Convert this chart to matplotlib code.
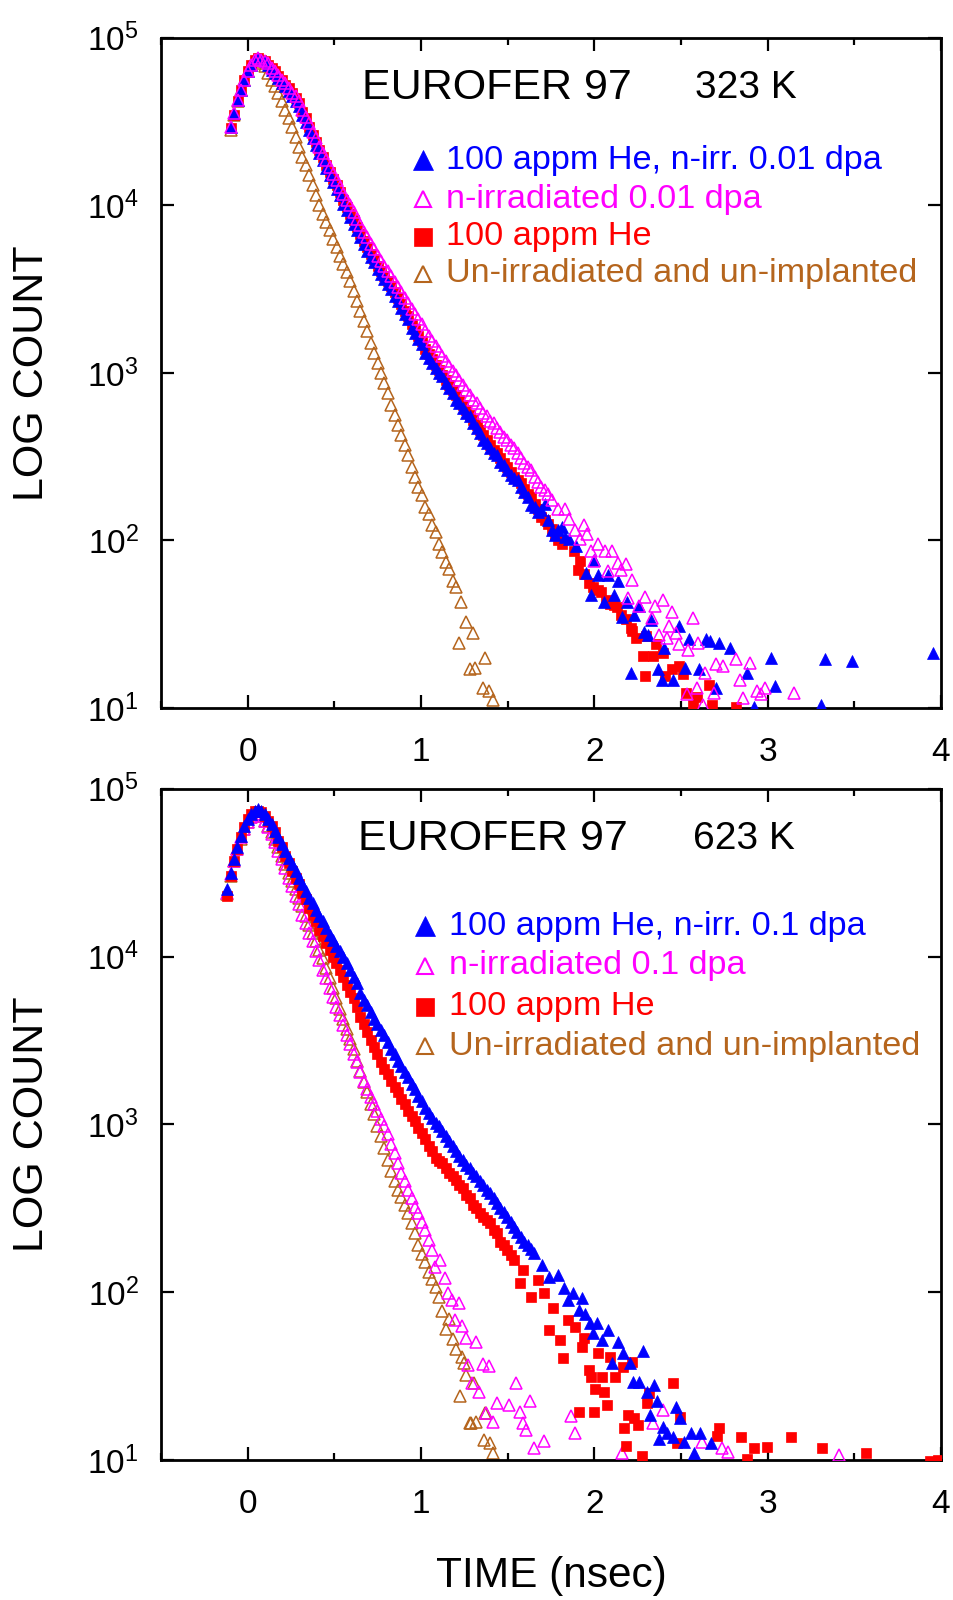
import numpy as np
import matplotlib
matplotlib.use("Agg")
import matplotlib.pyplot as plt
from matplotlib.ticker import MultipleLocator, LogLocator, NullLocator

plt.rcParams['font.family'] = ['Liberation Sans', 'DejaVu Sans']
plt.rcParams['mathtext.fontset'] = 'custom'
plt.rcParams['mathtext.rm'] = 'Liberation Sans'
plt.rcParams['mathtext.it'] = 'Liberation Sans:italic'

# ---------------- data (log10 of counts per time channel) ----------------
CHANNEL_NS = 0.0197
T0_TOP = -0.098
T0_BOT = -0.118

# Top panel: 323 K
top_blue = [4.47, 4.55, 4.63, 4.69, 4.75, 4.80, 4.84, 4.87, 4.88, 4.87,
            4.86, 4.84, 4.81, 4.79, 4.76, 4.73, 4.71, 4.68, 4.65, 4.62,
            4.59, 4.54, 4.50, 4.45, 4.40, 4.36, 4.31, 4.27, 4.22, 4.18,
            4.14, 4.10, 4.06, 4.01, 3.97, 3.93, 3.89, 3.85, 3.81, 3.77,
            3.73, 3.69, 3.66, 3.62, 3.59, 3.56, 3.53, 3.50, 3.46, 3.43,
            3.39, 3.35, 3.32, 3.27, 3.24, 3.20, 3.17, 3.12, 3.09, 3.06,
            3.03, 3.00, 2.98, 2.94, 2.91, 2.88, 2.84, 2.82, 2.79, 2.76,
            2.74, 2.70, 2.67, 2.64, 2.60, 2.58, 2.55, 2.52, 2.51, 2.47,
            2.45, 2.42, 2.39, 2.37, 2.36, 2.32, 2.29, 2.26, 2.21, 2.20,
            2.17, 2.18, 2.22, 2.12, 2.06, 2.03, 2.06, 2.08, 2.02, 2.01]
top_blue_tail_t = [1.894, 1.952, 1.98, 2.0, 2.02, 2.058, 2.077, 2.116, 2.134, 2.16,
                   2.19, 2.21, 2.23, 2.26, 2.288, 2.307, 2.327, 2.37, 2.39, 2.40,
                   2.452, 2.49, 2.525, 2.548, 2.605, 2.644, 2.67, 2.70, 2.72, 2.78,
                   2.878, 2.92, 3.018, 3.04, 3.31, 3.33, 3.487, 3.956]
top_blue_tail = [1.964, 1.805, 1.675, 1.884, 1.795, 1.635, 1.795, 1.675, 1.755, 1.546,
                 1.635, 1.21, 1.556, 1.606, 1.456, 1.437, 1.526, 1.23, 1.165, 1.36,
                 1.166, 1.49, 1.24, 1.41, 1.23, 1.41, 1.40, 1.117, 1.39, 1.36,
                 1.21, 1.005, 1.30, 1.13, 1.02, 1.29, 1.28, 1.33]

top_red = [4.46, 4.54, 4.62, 4.69, 4.75, 4.80, 4.84, 4.87, 4.88, 4.87,
           4.86, 4.84, 4.82, 4.80, 4.77, 4.75, 4.72, 4.70, 4.67, 4.64,
           4.61, 4.56, 4.52, 4.47, 4.42, 4.38, 4.33, 4.29, 4.24, 4.20,
           4.16, 4.12, 4.08, 4.03, 3.99, 3.95, 3.91, 3.87, 3.83, 3.79,
           3.75, 3.71, 3.68, 3.64, 3.61, 3.58, 3.55, 3.52, 3.48, 3.45,
           3.41, 3.37, 3.34, 3.29, 3.26, 3.22, 3.19, 3.14, 3.11, 3.08,
           3.05, 3.02, 2.99, 2.96, 2.93, 2.90, 2.87, 2.84, 2.81, 2.78,
           2.75, 2.72, 2.69, 2.66, 2.63, 2.60, 2.57, 2.54, 2.52, 2.49,
           2.46, 2.44, 2.41, 2.38, 2.36, 2.34, 2.31, 2.28, 2.26, 2.22,
           2.19, 2.14, 2.12, 2.10, 2.07, 2.03, 2.00, 1.98]
top_red_tail_t = [1.885, 1.905, 1.92, 1.94, 1.97, 1.99, 2.02, 2.04, 2.07, 2.09,
                  2.116, 2.13, 2.155, 2.18, 2.21, 2.22, 2.24, 2.28, 2.29, 2.30,
                  2.337, 2.355, 2.395, 2.41, 2.45, 2.49, 2.51, 2.53, 2.57, 2.59,
                  2.66, 2.68, 2.82]
top_red_tail = [1.94, 1.825, 1.88, 1.80, 1.745, 1.72, 1.705, 1.69, 1.645, 1.62,
                1.616, 1.60, 1.556, 1.53, 1.477, 1.46, 1.418, 1.31, 1.19, 1.427,
                1.31, 1.38, 1.33, 1.19, 1.23, 1.25, 1.20, 1.092, 1.02, 1.068,
                1.14, 1.02, 1.005]

top_magenta = [4.47, 4.55, 4.63, 4.69, 4.75, 4.80, 4.84, 4.87, 4.88, 4.87,
               4.86, 4.85, 4.82, 4.80, 4.78, 4.75, 4.73, 4.70, 4.67, 4.65,
               4.62, 4.57, 4.53, 4.49, 4.44, 4.40, 4.35, 4.31, 4.27, 4.23,
               4.19, 4.15, 4.11, 4.07, 4.03, 4.00, 3.96, 3.92, 3.88, 3.84,
               3.81, 3.77, 3.74, 3.70, 3.67, 3.64, 3.61, 3.58, 3.54, 3.51,
               3.48, 3.45, 3.42, 3.38, 3.35, 3.32, 3.29, 3.25, 3.22, 3.19,
               3.16, 3.13, 3.10, 3.07, 3.04, 3.01, 2.99, 2.96, 2.93, 2.90,
               2.87, 2.84, 2.82, 2.79, 2.76, 2.74, 2.71, 2.70, 2.67, 2.65,
               2.62, 2.60, 2.57, 2.55, 2.52, 2.49, 2.46, 2.44, 2.42, 2.38,
               2.35, 2.32, 2.30, 2.28, 2.24]
top_magenta_tail_t = [1.79, 1.83, 1.856, 1.89, 1.92, 1.94, 1.96, 1.98, 2.0, 2.02,
                      2.06, 2.077, 2.10, 2.135, 2.155, 2.18, 2.196, 2.22, 2.26, 2.294,
                      2.33, 2.35, 2.375, 2.395, 2.42, 2.43, 2.45, 2.47, 2.49, 2.535,
                      2.54, 2.57, 2.59, 2.60, 2.625, 2.64, 2.69, 2.70, 2.74, 2.82,
                      2.84, 2.86, 2.90, 2.94, 2.96, 2.985, 3.15]
top_magenta_tail = [2.19, 2.19, 2.13, 2.06, 2.01, 2.09, 2.04, 1.94, 1.88, 1.98,
                    1.935, 1.815, 1.94, 1.864, 1.825, 1.86, 1.656, 1.765, 1.606, 1.66,
                    1.54, 1.61, 1.436, 1.645, 1.42, 1.49, 1.57, 1.45, 1.38, 1.085,
                    1.345, 1.54, 1.12, 1.39, 1.02, 1.21, 1.09, 1.26, 1.25, 1.29,
                    1.17, 1.06, 1.27, 1.10, 1.085, 1.12, 1.09]

top_brown = [4.45, 4.54, 4.62, 4.69, 4.75, 4.80, 4.84, 4.86, 4.87, 4.85,
             4.83, 4.79, 4.75, 4.71, 4.67, 4.62, 4.57, 4.52, 4.47, 4.41,
             4.35, 4.29, 4.24, 4.18, 4.12, 4.06, 4.00, 3.95, 3.90, 3.85,
             3.80, 3.75, 3.70, 3.65, 3.60, 3.55, 3.49, 3.43, 3.37, 3.31,
             3.25, 3.18, 3.12, 3.06, 3.00, 2.94, 2.88, 2.81, 2.75, 2.69,
             2.63, 2.57, 2.51, 2.44, 2.38, 2.32, 2.27, 2.20, 2.16, 2.09,
             2.05, 1.98, 1.93, 1.87, 1.83, 1.76, 1.72]
top_brown_tail_t = [1.22, 1.23, 1.26, 1.28, 1.30, 1.313, 1.356, 1.367, 1.395, 1.415]
top_brown_tail = [1.39, 1.63, 1.516, 1.23, 1.447, 1.24, 1.118, 1.298, 1.10, 1.05]

# Bottom panel: 623 K
bot_blue = [4.40, 4.50, 4.58, 4.65, 4.72, 4.78, 4.82, 4.85, 4.87, 4.88,
            4.87, 4.85, 4.82, 4.79, 4.75, 4.71, 4.67, 4.63, 4.59, 4.55,
            4.51, 4.47, 4.43, 4.39, 4.35, 4.32, 4.28, 4.24, 4.21, 4.17,
            4.13, 4.10, 4.06, 4.03, 4.00, 3.96, 3.92, 3.88, 3.84, 3.78,
            3.74, 3.71, 3.67, 3.63, 3.60, 3.56, 3.53, 3.49, 3.45, 3.42,
            3.38, 3.35, 3.31, 3.28, 3.24, 3.21, 3.17, 3.14, 3.10, 3.07,
            3.04, 3.01, 2.99, 2.96, 2.93, 2.90, 2.87, 2.84, 2.81, 2.79,
            2.76, 2.74, 2.71, 2.69, 2.66, 2.64, 2.61, 2.59, 2.56, 2.53,
            2.50, 2.48, 2.45, 2.42, 2.39, 2.36, 2.33, 2.30, 2.28, 2.26]
bot_blue_tail_t = [1.654, 1.697, 1.739, 1.792, 1.824, 1.846, 1.877, 1.91, 1.926, 1.948,
                   1.973, 1.99, 2.016, 2.047, 2.08, 2.10, 2.139, 2.164, 2.207, 2.224,
                   2.26, 2.281, 2.303, 2.32, 2.345, 2.36, 2.375, 2.398, 2.422, 2.454,
                   2.47, 2.495, 2.517, 2.555, 2.574, 2.611, 2.674]
bot_blue_tail = [2.232, 2.162, 2.093, 2.103, 2.024, 1.954, 1.994, 1.894, 1.964, 1.87,
                 1.819, 1.755, 1.819, 1.715, 1.775, 1.576, 1.705, 1.636, 1.58, 1.467,
                 1.467, 1.651, 1.407, 1.268, 1.447, 1.354, 1.123, 1.198, 1.159, 1.135,
                 1.318, 1.248, 1.109, 1.159, 1.04, 1.159, 1.103]

bot_red = [4.36, 4.48, 4.57, 4.64, 4.71, 4.77, 4.82, 4.85, 4.87, 4.87,
           4.86, 4.84, 4.81, 4.78, 4.74, 4.69, 4.65, 4.60, 4.56, 4.51,
           4.47, 4.43, 4.38, 4.34, 4.29, 4.25, 4.21, 4.16, 4.12, 4.08,
           4.04, 4.00, 3.96, 3.92, 3.88, 3.83, 3.79, 3.75, 3.70, 3.64,
           3.60, 3.55, 3.50, 3.46, 3.42, 3.37, 3.33, 3.30, 3.26, 3.22,
           3.19, 3.15, 3.12, 3.08, 3.05, 3.02, 2.98, 2.95, 2.91, 2.87,
           2.84, 2.80, 2.78, 2.77, 2.74, 2.71, 2.69, 2.67, 2.64, 2.62,
           2.58, 2.56, 2.52, 2.50, 2.47, 2.45, 2.43, 2.41, 2.37, 2.35,
           2.30, 2.28, 2.25, 2.22, 2.19]
bot_red_tail_t = [1.569, 1.59, 1.633, 1.676, 1.707, 1.739, 1.76, 1.803, 1.82, 1.846,
                  1.888, 1.914, 1.931, 1.941, 1.969, 1.978, 1.997, 2.005, 2.024, 2.047,
                  2.058, 2.075, 2.09, 2.122, 2.164, 2.171, 2.18, 2.196, 2.218, 2.227,
                  2.25, 2.274, 2.303, 2.313, 2.452, 2.479, 2.494, 2.706, 2.718, 2.845,
                  2.879, 2.92, 2.996, 3.137, 3.311, 3.566, 3.934, 3.98]
bot_red_tail = [2.053, 2.133, 1.974, 2.073, 1.994, 1.775, 1.904, 1.715, 1.606, 1.835,
                1.795, 1.288, 1.675, 1.725, 1.536, 1.493, 1.288, 1.422, 1.636, 1.497,
                1.407, 1.328, 1.616, 1.497, 1.556, 1.189, 1.083, 1.268, 1.586, 1.248,
                1.209, 1.024, 1.342, 1.398, 1.457, 1.099, 1.258, 1.143, 1.189, 1.139,
                1.004, 1.07, 1.079, 1.139, 1.07, 1.04, 0.996, 1.0]

bot_magenta = [4.38, 4.49, 4.57, 4.64, 4.71, 4.76, 4.80, 4.83, 4.85, 4.85,
               4.84, 4.81, 4.77, 4.73, 4.68, 4.63, 4.58, 4.53, 4.47, 4.42,
               4.36, 4.31, 4.25, 4.20, 4.14, 4.09, 4.03, 3.98, 3.92, 3.87,
               3.81, 3.76, 3.70, 3.65, 3.59, 3.53, 3.48, 3.42, 3.37, 3.31,
               3.26, 3.21, 3.16, 3.12, 3.08, 3.03, 2.99, 2.94, 2.88, 2.83,
               2.77, 2.71, 2.66, 2.61, 2.56, 2.51, 2.47, 2.42, 2.37, 2.31]
bot_magenta_tail_t = [1.064, 1.08, 1.112, 1.14, 1.154, 1.176, 1.197, 1.218, 1.239, 1.257,
                      1.271, 1.293, 1.318, 1.335, 1.356, 1.377, 1.395, 1.414, 1.437, 1.509,
                      1.548, 1.569, 1.59, 1.607, 1.629, 1.651, 1.712, 1.867, 1.888, 2.161,
                      2.339, 2.398, 2.622, 2.734, 2.77, 3.414]
bot_magenta_tail = [2.25, 2.152, 2.192, 2.083, 1.997, 1.954, 1.835, 1.934, 1.799, 1.725,
                    1.566, 1.457, 1.705, 1.407, 1.572, 1.278, 1.56, 1.228, 1.342, 1.33,
                    1.461, 1.284, 1.219, 1.179, 1.354, 1.07, 1.115, 1.262, 1.159, 1.04,
                    1.219, 1.298, 1.109, 1.07, 1.05, 1.03]

bot_brown = [4.37, 4.48, 4.57, 4.64, 4.70, 4.76, 4.80, 4.83, 4.85, 4.85,
             4.84, 4.81, 4.78, 4.74, 4.70, 4.65, 4.60, 4.55, 4.50, 4.45,
             4.40, 4.35, 4.30, 4.24, 4.19, 4.14, 4.09, 4.04, 3.99, 3.93,
             3.87, 3.81, 3.75, 3.69, 3.63, 3.57, 3.51, 3.45, 3.38, 3.32,
             3.25, 3.19, 3.12, 3.06, 2.99, 2.93, 2.86, 2.79, 2.72, 2.66,
             2.61, 2.57, 2.52, 2.47, 2.41, 2.35, 2.28, 2.23, 2.18, 2.12,
             2.08, 2.03, 1.97, 1.89, 1.78, 1.84, 1.72, 1.66]
bot_brown_tail_t = [1.224, 1.239, 1.25, 1.26, 1.28, 1.289, 1.303, 1.32, 1.363, 1.367,
                    1.373, 1.40, 1.414]
bot_brown_tail = [1.383, 1.616, 1.576, 1.507, 1.219, 1.219, 1.457, 1.228, 1.119, 1.278,
                  1.282, 1.099, 1.04]

labels_top = ["100 appm He, n-irr. 0.01 dpa", "n-irradiated 0.01 dpa",
              "100 appm He", "Un-irradiated and un-implanted"]
labels_bot = ["100 appm He, n-irr. 0.1 dpa", "n-irradiated 0.1 dpa",
              "100 appm He", "Un-irradiated and un-implanted"]
titles = [("EUROFER 97", "323 K"), ("EUROFER 97", "623 K")]

BLUE = '#0000FF'
MAGENTA = '#FF00FF'
RED = '#FF0000'
BROWN = '#B5651D'

STYLE = {
    'blue': dict(marker='^', color=BLUE, mfc=BLUE, mec=BLUE, ms=8.8, mew=0.5),
    'magenta': dict(marker='^', color=MAGENTA, mfc='none', mec=MAGENTA, ms=8.3, mew=1.1),
    'red': dict(marker='s', color=RED, mfc=RED, mec=RED, ms=7.3, mew=0.5),
    'brown': dict(marker='^', color=BROWN, mfc='none', mec=BROWN, ms=8.3, mew=1.1),
}


def series(dense, t0, tail_t, tail_L):
    t = t0 + CHANNEL_NS * np.arange(len(dense))
    tt = np.concatenate([t, np.asarray(tail_t, float)])
    LL = np.concatenate([np.asarray(dense, float), np.asarray(tail_L, float)])
    return tt, 10.0 ** LL


fig = plt.figure(figsize=(9.54, 16), dpi=100)
W, H = 954.0, 1600.0
ax_top = fig.add_axes([161 / W, 1 - 708 / H, 780 / W, 670.2 / H])
ax_bot = fig.add_axes([161 / W, 1 - 1460 / H, 780 / W, 671.3 / H])

panels = [
    (ax_top, T0_TOP,
     [('brown', top_brown, top_brown_tail_t, top_brown_tail),
      ('red', top_red, top_red_tail_t, top_red_tail),
      ('blue', top_blue, top_blue_tail_t, top_blue_tail),
      ('magenta', top_magenta, top_magenta_tail_t, top_magenta_tail)],
     labels_top, titles[0],
     [0.8170, 0.7590, 0.7030, 0.6480], 0.3364, 0.3654, 0.431, 0.750),
    (ax_bot, T0_BOT,
     [('brown', bot_brown, bot_brown_tail_t, bot_brown_tail),
      ('magenta', bot_magenta, bot_magenta_tail_t, bot_magenta_tail),
      ('red', bot_red, bot_red_tail_t, bot_red_tail),
      ('blue', bot_blue, bot_blue_tail_t, bot_blue_tail)],
     labels_bot, titles[1],
     [0.7950, 0.7360, 0.6750, 0.6160], 0.339, 0.369, 0.4256, 0.747),
]

legend_order = ['blue', 'magenta', 'red', 'brown']
legend_colors = {'blue': BLUE, 'magenta': MAGENTA, 'red': RED, 'brown': BROWN}
legend_ms = {'blue': 15, 'magenta': 11.5, 'red': 13, 'brown': 11.5}

for ax, t0, sers, labels, (title, temp), ly, mx, tx, ttx, tpx in panels:
    for z, (key, dense, tail_t, tail_L) in enumerate(sers):
        t, c = series(dense, t0, tail_t, tail_L)
        ax.plot(t, c, linestyle='none', zorder=2 + z, **STYLE[key])
    ax.set_yscale('log')
    ax.set_xlim(-0.5, 4.0)
    ax.set_ylim(10, 1e5)
    ax.xaxis.set_major_locator(MultipleLocator(1))
    ax.xaxis.set_minor_locator(MultipleLocator(0.5))
    ax.yaxis.set_major_locator(LogLocator(base=10, numticks=10))
    ax.yaxis.set_minor_locator(NullLocator())
    ax.tick_params(which='both', direction='in', top=True, right=True, width=1.6)
    ax.tick_params(which='major', length=9.5)
    ax.tick_params(which='minor', length=5)
    ax.tick_params(axis='x', which='major', labelsize=24, pad=21)
    ax.tick_params(axis='y', which='major', labelsize=24, pad=16)
    for s in ax.spines.values():
        s.set_linewidth(2.0)

    ax.text(ttx, 0.925, title, transform=ax.transAxes,
            ha='center', va='center', fontsize=31)
    ax.text(tpx, 0.925, temp, transform=ax.transAxes,
            ha='center', va='center', fontsize=28)

    for key, lab, y in zip(legend_order, labels, ly):
        st = STYLE[key]
        ax.plot([mx], [y], transform=ax.transAxes, linestyle='none', marker=st['marker'],
                mfc=st['mfc'], mec=st['mec'], ms=legend_ms[key],
                mew=1.5 if st['mfc'] == 'none' else 0.5, clip_on=False, zorder=10)
        ax.text(tx, y, lab, transform=ax.transAxes, ha='left', va='center',
                fontsize=24.7, color=legend_colors[key], zorder=10)

fig.text(31.6 / W, 1 - 373 / H, 'LOG COUNT', rotation=90, ha='center', va='center', fontsize=31)
fig.text(31.6 / W, 1 - 1124 / H, 'LOG COUNT', rotation=90, ha='center', va='center', fontsize=31)
fig.text(551 / W, 1 - 1576 / H, 'TIME (nsec)', ha='center', va='center', fontsize=30.5)

fig.savefig('out.png', dpi=100)
